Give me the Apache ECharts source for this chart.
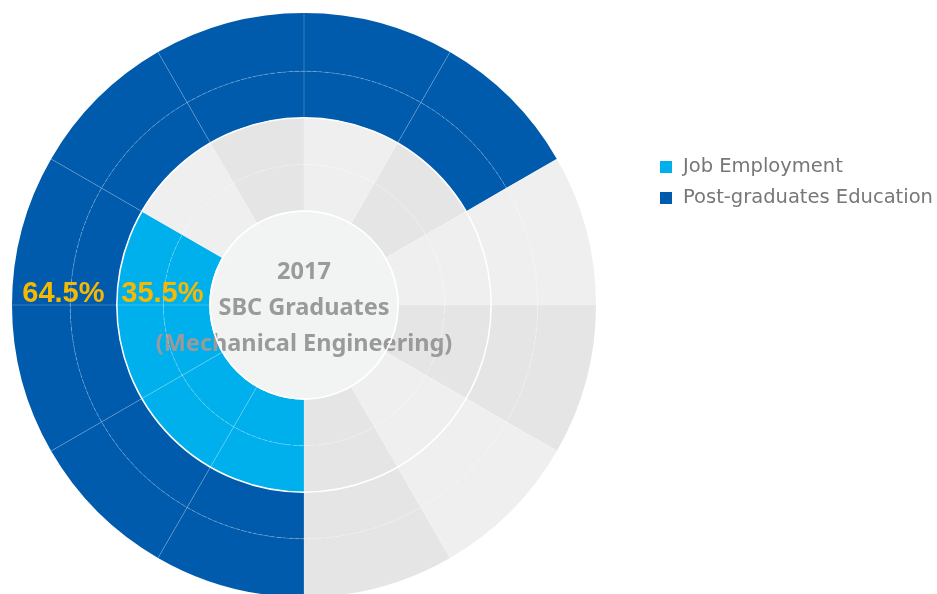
<!DOCTYPE html>
<html>
<head>
<meta charset="utf-8">
<title>2017 SBC Graduates</title>
<script src="https://cdn.jsdelivr.net/npm/echarts@6/dist/echarts.min.js"></script>
<style>
html,body{margin:0;padding:0;background:#fff}
#main{width:937px;height:594px}
</style>
</head>
<body>
<div id="main"></div>
<script>
// sectors of the wheel, clockwise from 12 o'clock
var sectors = ['1','2','3','4','5','6','7','8','9','10','11','12'];
// radial thickness of the stacked layers (2 inner + 2 outer)
var layers = [1, 1, 1, 1.25];
// what fills each sector ('' = grey background)
var innerRing = ['', '', '', '', '', '', 'job', 'job', 'job', 'job', '', ''];
var outerRing = ['post', 'post', '', '', '', '', 'post', 'post', 'post', 'post', 'post', 'post'];
var groupNames = ['Job Employment', 'Post-graduates Education'];
var groupShares = [35.5, 64.5];
var centerTitle = ['2017', 'SBC Graduates', '(Mechanical Engineering)'];

var colorJob = '#00b0ec';
var colorPost = '#005bac';
var greys = ['#efefef', '#e5e5e5'];
var ctr = [304, 305];
var rad = [94, 292];

function sectorColor(kind, i) {
    if (kind == 'job') return colorJob;
    if (kind == 'post') return colorPost;
    return greys[i % 2];
}

var series = [];
for (var k = 0; k < layers.length; k++) {
    var ring = k < 2 ? innerRing : outerRing;
    var data = [];
    for (var i = 0; i < sectors.length; i++) {
        data.push({value: layers[k], itemStyle: {color: sectorColor(ring[i], i)}});
    }
    series.push({
        type: 'bar',
        coordinateSystem: 'polar',
        polarIndex: 0,
        stack: 'ring',
        barCategoryGap: '0%',
        silent: true,
        data: data
    });
}
// empty series, only for the legend
series.push({name: groupNames[0], type: 'bar', coordinateSystem: 'polar', polarIndex: 0, stack: 'ring', data: [], itemStyle: {color: colorJob}});
series.push({name: groupNames[1], type: 'bar', coordinateSystem: 'polar', polarIndex: 0, stack: 'ring', data: [], itemStyle: {color: colorPost}});

// centre disc with the title
series.push({
    type: 'pie',
    center: ctr,
    radius: [0, rad[0]],
    silent: true,
    z: 5,
    itemStyle: {color: '#f2f3f3', borderColor: '#fff', borderWidth: 1.5},
    label: {
        show: true,
        position: 'center',
        formatter: centerTitle.join('\n'),
        color: '#9a9a9a',
        fontSize: 23.5,
        fontWeight: 'bold',
        fontFamily: 'Noto Sans',
        lineHeight: 36,
        offset: [0, 3]
    },
    labelLine: {show: false},
    emphasis: {disabled: true},
    data: [{value: 1, name: 'centre'}]
});

// share labels, in the middle of each ring at 9 o'clock
var innerMid = (layers[0] + layers[1]) / 2;
var outerMid = layers[0] + layers[1] + (layers[2] + layers[3]) / 2;
series.push({
    type: 'scatter',
    coordinateSystem: 'polar',
    polarIndex: 1,
    symbolSize: 1,
    silent: true,
    z: 20,
    itemStyle: {color: 'rgba(0,0,0,0)', opacity: 1},
    label: {
        show: true,
        position: 'top',
        distance: 0,
        offset: [-1, 4],
        formatter: '{b}',
        color: '#f6b900',
        opacity: 1,
        textBorderWidth: 0,
        fontSize: 29,
        fontWeight: 'bold',
        fontFamily: '"Liberation Sans Narrow", "Liberation Sans", Arial'
    },
    data: [
        {name: groupShares[1].toFixed(1) + '%', value: [outerMid, 270]},
        {name: groupShares[0].toFixed(1) + '%', value: [innerMid, 270]}
    ]
});

var myChart = echarts.init(document.getElementById('main'));
var option = {
    animation: false,
    legend: {
        orient: 'vertical',
        left: 655,
        top: 152,
        icon: 'rect',
        itemWidth: 12,
        itemHeight: 12,
        itemGap: 11,
        selectedMode: false,
        data: groupNames,
        textStyle: {color: '#777', fontSize: 19.5, fontFamily: 'DejaVu Sans', padding: [0, 0, 0, 6]}
    },
    polar: [
        {center: ctr, radius: rad},
        {center: ctr, radius: rad}
    ],
    angleAxis: [{
        polarIndex: 0,
        type: 'category',
        data: sectors,
        startAngle: 90,
        z: 10,
        axisLine: {show: false},
        axisTick: {show: false},
        axisLabel: {show: false},
        splitLine: {show: true, lineStyle: {color: 'rgba(255,255,255,0.2)', width: 1}}
    }, {
        polarIndex: 1,
        type: 'value',
        min: 0,
        max: 360,
        startAngle: 90,
        axisLine: {show: false},
        axisTick: {show: false},
        axisLabel: {show: false},
        splitLine: {show: false}
    }],
    radiusAxis: [{
        polarIndex: 0,
        type: 'value',
        min: 0,
        max: 4.25,
        interval: 1,
        z: 10,
        axisLine: {show: false},
        axisTick: {show: false},
        axisLabel: {show: false},
        splitLine: {show: true, lineStyle: {type: 'dashed', width: 1,
            color: ['rgba(0,0,0,0)', 'rgba(255,255,255,0.25)', 'rgba(0,0,0,0)', 'rgba(255,255,255,0.25)', 'rgba(0,0,0,0)', 'rgba(0,0,0,0)']}}
    }, {
        polarIndex: 1,
        type: 'value',
        min: 0,
        max: 4.25,
        interval: 2,
        z: 11,
        axisLine: {show: false},
        axisTick: {show: false},
        axisLabel: {show: false},
        splitLine: {show: true, lineStyle: {width: 1.5,
            color: ['#fff', '#fff', 'rgba(0,0,0,0)', 'rgba(0,0,0,0)']}}
    }],
    series: series
};
myChart.setOption(option);
</script>
</body>
</html>
